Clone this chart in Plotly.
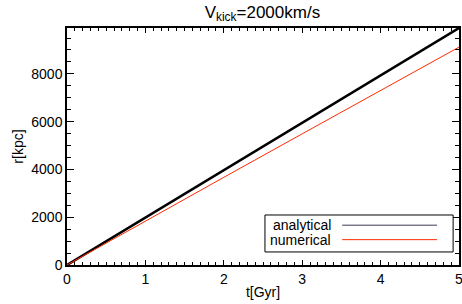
import plotly.graph_objects as go

t_gyr = [0, 1, 2, 3, 4, 5]
r_analytical = [0, 1984, 3968, 5952, 7936, 9920]
r_numerical = [0, 1850, 3670, 5490, 7310, 9120]
legend_labels = ["analytical", "numerical"]
x_ticks = [0, 1, 2, 3, 4, 5]
y_ticks = [0, 2000, 4000, 6000, 8000]

fig = go.Figure()
fig.add_trace(go.Scatter(x=t_gyr, y=r_analytical, mode="lines",
                         line=dict(color="black", width=2.5), showlegend=False))
fig.add_trace(go.Scatter(x=t_gyr, y=r_numerical, mode="lines",
                         line=dict(color="#ff2a00", width=1), showlegend=False))

font = dict(family="Liberation Sans, Arial, Helvetica, sans-serif", color="black")

# legend box (IDL style: text then line sample)
x0, x1, y0, y1 = 0.505, 0.985, 0.055, 0.211
fig.add_shape(type="rect", xref="paper", yref="paper", x0=x0, x1=x1, y0=y0, y1=y1,
              line=dict(color="black", width=1), fillcolor="white", layer="above")
rows = [(legend_labels[0], 0.168, "#3a3a5a"), (legend_labels[1], 0.107, "#ff2a00")]
for lab, yy, col in rows:
    fig.add_annotation(xref="paper", yref="paper", x=0.679, y=yy, text=lab,
                       showarrow=False, xanchor="right", yanchor="middle",
                       font=dict(size=14, **font))
    fig.add_shape(type="line", xref="paper", yref="paper", x0=0.702, x1=0.944,
                  y0=yy, y1=yy, line=dict(color=col, width=1), layer="above")

fig.update_layout(
    width=462, height=304,
    margin=dict(l=67, r=3, t=28, b=39),
    paper_bgcolor="white", plot_bgcolor="white",
    font=dict(size=14, **font),
    title=dict(text="V<sub>kick</sub>=2000km/s", x=0.568, xanchor="center",
               y=0.962, yanchor="middle", font=dict(size=17, **font)),
    showlegend=False,
)
fig.update_xaxes(range=[0, 5], tickvals=x_ticks, ticktext=[str(v) for v in x_ticks],
                 automargin=False, ticklabeloverflow="allow",
                 showline=True, linecolor="black", linewidth=1.5, mirror="allticks",
                 ticks="inside", ticklen=5, tickwidth=1, tickcolor="black",
                 minor=dict(dtick=0.1, ticks="inside", ticklen=3, tickcolor="black", tickwidth=1),
                 showgrid=False, zeroline=False,
                 title=dict(text="t[Gyr]", standoff=2, font=dict(size=14, **font)),
                 tickfont=dict(size=14, **font))
fig.update_yaxes(range=[0, 9920], tickvals=y_ticks, ticktext=[str(v) for v in y_ticks],
                 automargin=False, ticklabeloverflow="allow",
                 showline=True, linecolor="black", linewidth=1.5, mirror="allticks",
                 ticks="inside", ticklen=7, tickwidth=1, tickcolor="black",
                 minor=dict(dtick=500, ticks="inside", ticklen=4, tickcolor="black", tickwidth=1),
                 showgrid=False, zeroline=False,
                 title=dict(text="r[kpc]", standoff=4, font=dict(size=14, **font)),
                 tickfont=dict(size=14, **font))

fig.write_html("out.html", config={"displayModeBar": False},
               post_script="document.body.style.margin='0';document.body.style.overflow='hidden';")
